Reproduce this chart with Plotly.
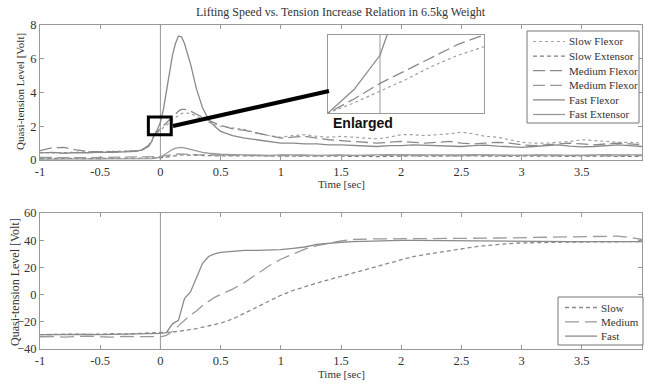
import plotly.graph_objects as go

# ---------------- data ----------------
t_top = [-1.0, -0.9, -0.8, -0.7, -0.6, -0.5, -0.4, -0.3, -0.2, -0.15,
         -0.1, -0.075, -0.05, -0.025, 0.0, 0.025, 0.05, 0.075, 0.1, 0.125, 0.15, 0.175, 0.2,
         0.25, 0.3, 0.35, 0.4, 0.45, 0.5,
         0.6, 0.7, 0.8, 0.9, 1.0, 1.1, 1.2, 1.3, 1.4, 1.5, 1.6, 1.7, 1.8, 1.9, 2.0,
         2.1, 2.2, 2.3, 2.4, 2.5, 2.6, 2.7, 2.8, 2.9, 3.0, 3.1, 3.2, 3.3, 3.4, 3.5,
         3.6, 3.7, 3.8, 3.9, 4.0]

slow_flexor = [0.45, 0.42, 0.44, 0.46, 0.45, 0.5, 0.48, 0.5, 0.55, 0.6,
               0.8, 1.05, 1.5, 1.63, 1.78, 1.93, 2.1, 2.24, 2.35, 2.5, 2.65, 2.75, 2.8,
               2.75, 2.6, 2.4, 2.25, 2.1, 2.0,
               1.9, 1.8, 1.6, 1.45, 1.35, 1.45, 1.5, 1.4, 1.35, 1.4, 1.35, 1.3, 1.25, 1.35, 1.5,
               1.5, 1.45, 1.5, 1.55, 1.65, 1.55, 1.4, 1.35, 1.2, 1.05, 1.0, 1.0, 1.05, 1.1, 1.2,
               1.15, 1.1, 1.05, 1.05, 1.0]

slow_extensor = [0.08, 0.1, 0.09, 0.1, 0.08, 0.1, 0.09, 0.1, 0.1, 0.1,
                 0.1, 0.1, 0.11, 0.12, 0.13, 0.15, 0.18, 0.21, 0.24, 0.27, 0.29, 0.3, 0.3,
                 0.3, 0.28, 0.27, 0.26, 0.25, 0.25,
                 0.24, 0.25, 0.23, 0.22, 0.24, 0.25, 0.23, 0.22, 0.24, 0.25, 0.23, 0.22, 0.2, 0.22, 0.24,
                 0.25, 0.23, 0.22, 0.24, 0.25, 0.24, 0.22, 0.2, 0.22, 0.24, 0.23, 0.22, 0.2, 0.22, 0.24,
                 0.25, 0.23, 0.22, 0.2, 0.22]

medium_flexor = [0.55, 0.72, 0.75, 0.6, 0.5, 0.5, 0.52, 0.5, 0.55, 0.62,
                 0.85, 1.1, 1.5, 1.68, 1.88, 2.05, 2.22, 2.38, 2.5, 2.7, 2.9, 3.0, 3.0,
                 2.9, 2.7, 2.5, 2.35, 2.2, 2.05,
                 1.85, 1.75, 1.6, 1.45, 1.3, 1.35, 1.4, 1.3, 1.2, 1.15, 1.1, 1.05, 1.0, 1.05, 1.1,
                 1.05, 1.0, 1.05, 1.1, 1.0, 0.95, 1.0, 1.05, 1.0, 0.9, 0.85, 0.9, 0.95, 1.0, 0.95,
                 0.9, 0.95, 1.0, 0.95, 0.9]

medium_extensor = [0.15, 0.14, 0.16, 0.15, 0.14, 0.15, 0.16, 0.15, 0.15, 0.15,
                   0.15, 0.16, 0.17, 0.18, 0.2, 0.23, 0.27, 0.3, 0.33, 0.35, 0.36, 0.36, 0.35,
                   0.33, 0.31, 0.3, 0.28, 0.27, 0.26,
                   0.27, 0.28, 0.26, 0.25, 0.27, 0.28, 0.26, 0.25, 0.27, 0.28, 0.26, 0.25, 0.27, 0.28, 0.26,
                   0.25, 0.27, 0.28, 0.26, 0.25, 0.27, 0.28, 0.26, 0.25, 0.27, 0.28, 0.26, 0.25, 0.27, 0.28,
                   0.26, 0.25, 0.27, 0.28, 0.26]

fast_flexor = [0.42, 0.45, 0.40, 0.44, 0.43, 0.47, 0.45, 0.48, 0.52, 0.6,
               0.8, 1.05, 1.5, 1.8, 2.24, 3.0, 4.0, 5.1, 6.2, 6.9, 7.35, 7.3, 6.9,
               5.7, 4.2, 3.1, 2.4, 2.0, 1.7,
               1.45, 1.3, 1.2, 1.1, 1.0, 1.0, 0.95, 0.95, 0.9, 0.9, 0.88, 0.82, 0.8, 0.85, 0.85,
               0.9, 0.88, 0.85, 0.82, 0.8, 0.85, 0.88, 0.82, 0.78, 0.75, 0.8, 0.85, 0.9, 0.82, 0.78,
               0.8, 0.85, 0.9, 0.85, 0.8]

fast_extensor = [0.05, 0.05, 0.06, 0.05, 0.05, 0.05, 0.06, 0.05, 0.06, 0.06,
                 0.07, 0.08, 0.1, 0.12, 0.18, 0.28, 0.4, 0.52, 0.62, 0.7, 0.74, 0.75, 0.72,
                 0.62, 0.52, 0.45, 0.4, 0.36, 0.34,
                 0.32, 0.3, 0.3, 0.28, 0.3, 0.32, 0.3, 0.28, 0.3, 0.3, 0.28, 0.27, 0.3, 0.32, 0.3,
                 0.28, 0.3, 0.3, 0.28, 0.3, 0.32, 0.3, 0.28, 0.27, 0.28, 0.3, 0.32, 0.3, 0.28, 0.3,
                 0.3, 0.32, 0.3, 0.28, 0.3]

t_bot = [-1.0, -0.9, -0.8, -0.7, -0.6, -0.5, -0.4, -0.3, -0.2, -0.1, 0.0,
         0.05, 0.1, 0.15, 0.2, 0.25, 0.3, 0.35, 0.4, 0.45, 0.5,
         0.6, 0.7, 0.8, 0.9, 1.0, 1.1, 1.2, 1.3, 1.4, 1.5, 1.6, 1.7, 1.8, 1.9, 2.0,
         2.1, 2.2, 2.3, 2.4, 2.5, 2.6, 2.7, 2.8, 2.9, 3.0, 3.1, 3.2, 3.3, 3.4, 3.5,
         3.6, 3.7, 3.8, 3.9, 4.0]

slow_b = [-29.5, -29.2, -29.4, -29.0, -29.3, -29.0, -28.8, -29.0, -28.7, -28.5, -28.0,
          -28.0, -27.5, -27.0, -26.5, -25.5, -25.0, -24.0, -23.0, -22.0, -21.0,
          -18.0, -13.5, -9.0, -4.5, -0.5, 3.0, 6.0, 8.5, 11.0, 13.5, 16.0, 18.5, 21.0, 23.5, 26.0,
          28.0, 29.5, 31.0, 32.5, 34.0, 35.0, 36.0, 37.0, 37.5, 38.0, 38.3, 38.5, 38.5, 38.6, 38.7,
          38.8, 38.8, 38.9, 39.0, 39.0]

medium_b = [-31.0, -30.8, -31.2, -31.0, -30.5, -31.0, -31.2, -30.8, -31.0, -31.2, -31.0,
            -30.0, -27.0, -23.0, -19.0, -15.0, -12.0, -8.0, -5.0, -2.0, 0.0,
            4.0, 9.0, 15.0, 21.0, 26.0, 30.0, 33.5, 36.0, 38.0, 39.5, 40.5, 41.0, 41.0, 41.0, 41.0,
            41.2, 41.2, 41.3, 41.3, 41.4, 41.5, 41.5, 41.6, 41.7, 41.8, 42.0, 42.2, 42.3, 42.3, 42.5,
            42.6, 42.8, 43.0, 42.0, 40.5]

fast_b = [-29.5, -29.3, -29.6, -29.4, -29.2, -29.5, -29.3, -29.0, -29.2, -28.8, -28.5,
          -28.0, -21.5, -19.0, -3.0, 2.0, 13.0, 23.0, 28.0, 30.0, 31.0,
          32.0, 32.5, 32.5, 32.5, 33.0, 34.0, 35.0, 37.0, 38.0, 38.5, 39.0, 39.3, 39.5, 39.6, 39.8,
          39.8, 39.7, 39.6, 39.5, 39.4, 39.3, 39.2, 39.2, 39.1, 39.0, 39.0, 39.0, 39.0, 39.0, 39.0,
          39.0, 39.0, 39.0, 39.0, 39.0]

x_ticks = [-1, -0.5, 0, 0.5, 1, 1.5, 2, 2.5, 3, 3.5, 4]
x_tick_labels = ["-1", "-0.5", "0", "0.5", "1", "1.5", "2", "2.5", "3", "3.5", "4"]
y_top_ticks = [0, 2, 4, 6, 8]
y_bot_ticks = [-40, -20, 0, 20, 40, 60]

title_text = "Lifting Speed vs. Tension Increase Relation in 6.5kg Weight"
y_title = "Quasi-tension Level [Volt]"
x_title = "Time [sec]"

# ---------------- styles ----------------
SERIF = "Liberation Serif, Times New Roman, serif"
GRAY = "#8a8a8a"
top_series = [
    ("Slow Flexor", slow_flexor, dict(color="#a0a0a0", width=1.2, dash="3px,3px")),
    ("Slow Extensor", slow_extensor, dict(color="#808080", width=1.3, dash="4px,3px")),
    ("Medium Flexor", medium_flexor, dict(color=GRAY, width=1.3, dash="12px,5px")),
    ("Medium Flexor", medium_extensor, dict(color="#9a9a9a", width=1.3, dash="12px,5px")),
    ("Fast Flexor", fast_flexor, dict(color=GRAY, width=1.3)),
    ("Fast Extensor", fast_extensor, dict(color="#999999", width=1.3)),
]
bot_series = [
    ("Slow", slow_b, dict(color=GRAY, width=1.3, dash="4px,3px")),
    ("Medium", medium_b, dict(color="#9a9a9a", width=1.3, dash="14px,6px")),
    ("Fast", fast_b, dict(color=GRAY, width=1.3)),
]

fig = go.Figure()
for name, vals, ln in top_series:
    fig.add_trace(go.Scatter(x=t_top, y=vals, mode="lines", name=name, line=ln,
                             xaxis="x", yaxis="y", showlegend=False))
# inset (enlarged view)
for name, vals, ln in top_series:
    fig.add_trace(go.Scatter(x=t_top, y=vals, mode="lines", name=name, line=ln,
                             xaxis="x3", yaxis="y3", showlegend=False, hoverinfo="skip"))
for name, vals, ln in bot_series:
    fig.add_trace(go.Scatter(x=t_bot, y=vals, mode="lines", name=name, line=ln,
                             xaxis="x2", yaxis="y2", showlegend=False))

W, H = 645, 385
def px(x):
    return x / W
def py(y):
    return 1 - y / H

axis_common = dict(showline=True, mirror="ticks", linecolor="#999999", linewidth=1,
                   ticks="inside", ticklen=4, tickcolor="#999999", showgrid=False, zeroline=False,
                   automargin=False,
                   tickfont=dict(family=SERIF, size=12.5, color="#333333"))
inset_axis = dict(showline=True, mirror=True, linecolor="#999999", showticklabels=False, ticks="",
                  showgrid=False, zeroline=False, automargin=False)

fig.update_layout(
    template="none",
    width=W, height=H, margin=dict(l=0, r=0, t=0, b=0, autoexpand=False),
    paper_bgcolor="white", plot_bgcolor="white",
    showlegend=False,
    font=dict(family=SERIF, color="#333333"),
    xaxis=dict(domain=[px(40), px(642)], range=[-1, 4], tickvals=x_ticks, ticktext=x_tick_labels,
               anchor="y", **axis_common),
    yaxis=dict(domain=[py(160), py(25)], range=[0, 8], tickvals=y_top_ticks, anchor="x", **axis_common),
    xaxis2=dict(domain=[px(40), px(642)], range=[-1, 4], tickvals=x_ticks, ticktext=x_tick_labels,
                anchor="y2", **axis_common),
    yaxis2=dict(domain=[py(349), py(213)], range=[-40, 60], tickvals=y_bot_ticks, anchor="x2", **axis_common),
    xaxis3=dict(domain=[px(328), px(484)], range=[-0.05, 0.1], anchor="y3", **inset_axis),
    yaxis3=dict(domain=[py(113), py(35)], range=[1.5, 2.5], anchor="x3", **inset_axis),
)

shapes = [
    # vertical lines at t=0
    dict(type="line", xref="x", yref="y", x0=0, x1=0, y0=0, y1=8, line=dict(color="#999999", width=1), layer="below"),
    dict(type="line", xref="x2", yref="y2", x0=0, x1=0, y0=-40, y1=60, line=dict(color="#999999", width=1), layer="below"),
    dict(type="line", xref="x3", yref="y3", x0=0, x1=0, y0=1.5, y1=2.5, line=dict(color="#999999", width=1), layer="below"),
    # zoom rectangle and pointer line
    dict(type="rect", xref="x", yref="y", x0=-0.1, x1=0.09, y0=1.5, y1=2.55,
         line=dict(color="black", width=3)),
    dict(type="line", xref="paper", yref="paper", x0=px(173), y0=py(126), x1=px(329), y1=py(91),
         line=dict(color="black", width=4)),
]

annotations = [
    dict(text=title_text, x=px(341), y=py(12.5), xref="paper", yref="paper", showarrow=False,
         font=dict(family=SERIF, size=12, color="#333333"), xanchor="center", yanchor="middle"),
    dict(text=x_title, x=px(341), y=py(184), xref="paper", yref="paper", showarrow=False,
         font=dict(family=SERIF, size=11, color="#333333"), xanchor="center", yanchor="middle"),
    dict(text=x_title, x=px(341), y=py(374), xref="paper", yref="paper", showarrow=False,
         font=dict(family=SERIF, size=11, color="#333333"), xanchor="center", yanchor="middle"),
    dict(text=y_title, x=px(20), y=py(92), xref="paper", yref="paper", showarrow=False, textangle=-90,
         font=dict(family=SERIF, size=11, color="#333333"), xanchor="center", yanchor="middle"),
    dict(text=y_title, x=px(15), y=py(282), xref="paper", yref="paper", showarrow=False, textangle=-90,
         font=dict(family=SERIF, size=12, color="#333333"), xanchor="center", yanchor="middle"),
    dict(text="<b>Enlarged</b>", x=px(331), y=py(123), xref="paper", yref="paper", showarrow=False,
         font=dict(family="Liberation Sans, Arial, sans-serif", size=14, color="#111111"),
         xanchor="left", yanchor="middle"),
]

# compact legends (boxes, line samples, labels) built from the series lists
def add_legend(series, box, first_y, step, sample_x0, sample_x1, text_x):
    shapes.append(dict(type="rect", xref="paper", yref="paper", x0=px(box[0]), x1=px(box[1]),
                       y0=py(box[3]), y1=py(box[2]), fillcolor="white",
                       line=dict(color="#777777", width=1)))
    for i, (name, _vals, ln) in enumerate(series):
        yy = first_y + i * step
        shapes.append(dict(type="line", xref="paper", yref="paper", x0=px(sample_x0), x1=px(sample_x1),
                           y0=py(yy), y1=py(yy),
                           line=dict(color=ln["color"], width=ln["width"], dash=ln.get("dash", "solid"))))
        annotations.append(dict(text=name, x=px(text_x), y=py(yy), xref="paper", yref="paper",
                                showarrow=False, xanchor="left", yanchor="middle",
                                font=dict(family=SERIF, size=11, color="#333333")))

add_legend(top_series, (527, 639, 31, 123), 41.5, 14.6, 533, 565, 567)
add_legend(bot_series, (558, 643, 297, 345), 307.5, 14.3, 565, 597, 599)

fig.update_layout(shapes=shapes, annotations=annotations)

# remove the default 8px page margin so the figure fills the window exactly
fig.write_html("out.html", config={"displayModeBar": False},
               post_script="document.body.style.margin='0';")
